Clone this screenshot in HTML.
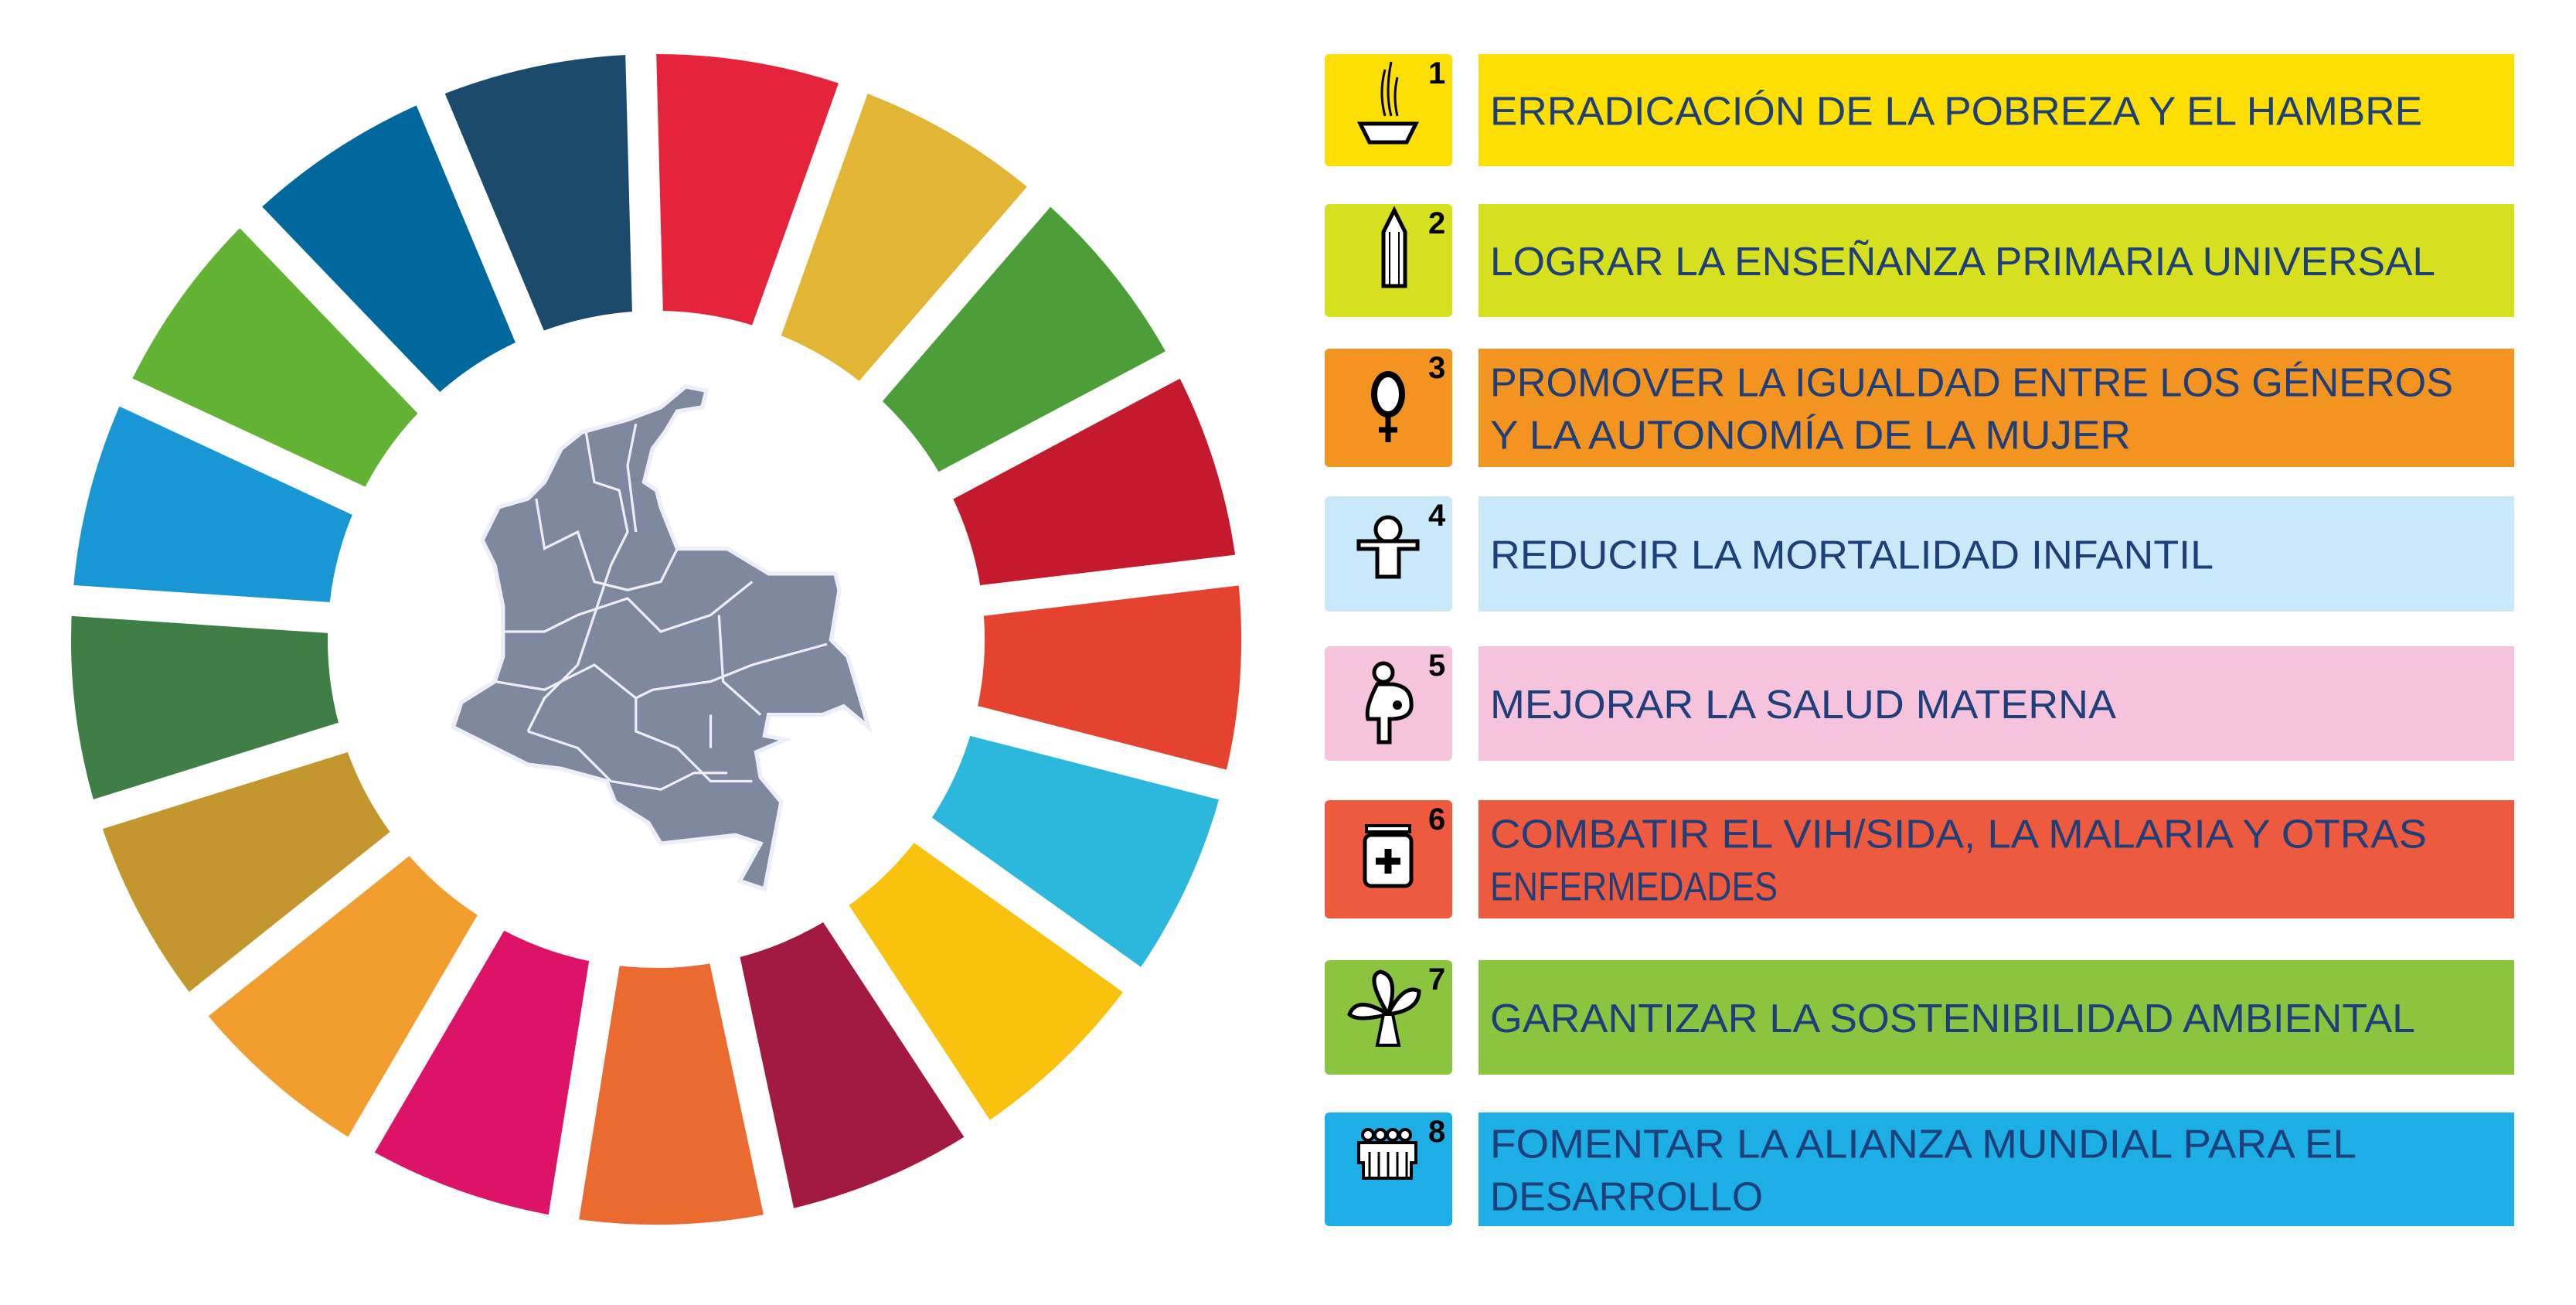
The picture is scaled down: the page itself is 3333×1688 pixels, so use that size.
<!DOCTYPE html>
<html><head><meta charset="utf-8"><style>
html,body{margin:0;padding:0;background:#fff;}
svg{display:block;}
.t{font-family:"Liberation Sans",sans-serif;font-size:52px;fill:#1F3F7A;}
.n{font-family:"Liberation Sans",sans-serif;font-size:40px;font-weight:bold;fill:#000;}
</style></head><body>
<svg id="s" width="3333" height="1688" viewBox="0 0 3333 1688">
<g id="ring"></g>
<g id="map" transform="translate(-5,0) scale(1.075)">
<polygon fill="#7E89A0" stroke="#EEEEF8" stroke-width="5" points="830,465 855,470 850,490 820,495 805,520 790,540 780,580 795,590 800,610 820,660 880,660 930,690 1010,690 1015,710 1005,770 1025,790 1040,840 1050,875 1020,850 995,860 930,860 925,885 950,890 915,905 920,935 945,965 925,1070 895,1060 920,1015 890,1005 800,1015 785,990 745,965 735,940 680,925 640,920 610,905 570,885 550,875 560,845 600,820 610,790 610,730 600,680 585,650 605,610 640,600 660,580 680,540 705,520 760,505 800,490"/>
<g fill="none" stroke="#EEEEF8" stroke-width="3">
<polyline points="650,600 660,660 700,640 720,700 760,710 800,700 820,660"/>
<polyline points="710,520 720,580 750,590 760,640 740,680 720,740 700,800 660,840 640,880"/>
<polyline points="770,510 760,560 770,640"/>
<polyline points="610,760 660,760 700,740 760,720 800,760 860,740 910,700"/>
<polyline points="870,740 875,820 920,860"/>
<polyline points="600,820 660,830 720,800 770,840 790,830 860,820 910,800 1000,775"/>
<polyline points="770,840 770,880 820,900 860,940 910,940"/>
<polyline points="640,880 700,900 740,940 800,950 840,930 880,930"/>
<polyline points="860,860 860,900"/>
</g>
</g>
<g id="rows"></g>
</svg>
<script>
var ringColors=["#E5243B","#E2B534","#4C9F38","#C5192D","#E5432F","#2BB8DC","#F9C20F","#A21942","#EA6A30","#DD1367","#F29E2E","#C4972E","#3F7E44","#1996D4","#62B234","#00689D","#1B4A6C"];
var NS="http://www.w3.org/2000/svg";
var cx=849,cy=827,R=757,r=425,off=-1.5,step=360/ringColors.length;
var ring=document.getElementById('ring');
function pt(a,rad){var t=a*Math.PI/180;return [cx+rad*Math.sin(t),cy-rad*Math.cos(t)];}
ringColors.forEach(function(c,i){
 var a0=off+i*step,a1=a0+step;
 var p0=pt(a0,R),p1=pt(a1,R),p2=pt(a1,r),p3=pt(a0,r);
 var p=document.createElementNS(NS,'path');
 p.setAttribute('d','M'+p0+' A'+R+','+R+' 0 0 1 '+p1+' L'+p2+' A'+r+','+r+' 0 0 0 '+p3+'Z');
 p.setAttribute('fill',c);
 
 
 ring.appendChild(p);
});
ringColors.forEach(function(c,i){
 var a=off+i*step,q=pt(a,R+20);
 var l=document.createElementNS(NS,'line');
 l.setAttribute('x1',cx);l.setAttribute('y1',cy);l.setAttribute('x2',q[0]);l.setAttribute('y2',q[1]);
 l.setAttribute('stroke','#fff');l.setAttribute('stroke-width','40');
 
 
 ring.appendChild(l);
});
</script>
<script>
var rowTop=[70,264,451,642,836,1035,1242,1439];
var rowBot=[215,410,604,791,984,1188,1390,1586];
var rowColors=["#FDDF03","#D6E01E","#F39320","#C9E8F9","#F5C3DB","#EE5A3E","#8BC53F","#1CAEE4"];
var rowLines=[["ERRADICACIÓN DE LA POBREZA Y EL HAMBRE"],["LOGRAR LA ENSEÑANZA PRIMARIA UNIVERSAL"],["PROMOVER LA IGUALDAD ENTRE LOS GÉNEROS","Y LA AUTONOMÍA DE LA MUJER"],["REDUCIR LA MORTALIDAD INFANTIL"],["MEJORAR LA SALUD MATERNA"],["COMBATIR EL VIH/SIDA, LA  MALARIA Y OTRAS","ENFERMEDADES"],["GARANTIZAR LA SOSTENIBILIDAD AMBIENTAL"],["FOMENTAR LA ALIANZA MUNDIAL PARA EL","DESARROLLO"]];
var rowWidths=[[1206],[1223],[1246,829],[936],[810],[1212,372],[1197],[1121,353]];
var icons=[
'<path d="M1760 160 h72 l-12 24 h-48 z" fill="#fff" stroke="#000" stroke-width="5"/><path d="M1792 150 q-8-30 0-60 M1800 150 q-8-30 0-70 M1808 150 q-6-25 0-50" stroke="#000" stroke-width="3" fill="none"/>',
'<path d="M1790 300 l14-28 l14 28 v70 h-28z" fill="#fff" stroke="#000" stroke-width="5"/><path d="M1798 300 v70 M1810 300 v70" stroke="#000" stroke-width="2"/>',
'<ellipse cx="1796" cy="510" rx="18" ry="26" fill="#fff" stroke="#000" stroke-width="8"/><path d="M1796 536 v36 M1784 556 h24" stroke="#000" stroke-width="7"/>',
'<circle cx="1796" cy="685" r="16" fill="#fff" stroke="#000" stroke-width="5"/><path d="M1758 700 h76 v10 h-24 v36 h-28 v-36 h-24z" fill="#fff" stroke="#000" stroke-width="5"/>',
'<circle cx="1790" cy="870" r="12" fill="#fff" stroke="#000" stroke-width="5"/><path d="M1782 885 q-16 30-12 45 h14 v30 h14 v-30 q30 0 28-20 q0-22-24-25z" fill="#fff" stroke="#000" stroke-width="5"/><circle cx="1808" cy="912" r="6" fill="#000"/>',
'<rect x="1768" y="1068" width="56" height="8" fill="#fff" stroke="#000" stroke-width="4"/><rect x="1766" y="1080" width="60" height="66" rx="8" fill="#fff" stroke="#000" stroke-width="5"/><path d="M1796 1098 v32 M1780 1114 h32" stroke="#000" stroke-width="9"/>',
'<path d="M1796 1312 q-30-50 -10-55 q25 5 10 55 q20-40 40-30 q0 25-40 30 q-40 10-50 0 q10-25 50 0 z" fill="#fff" stroke="#000" stroke-width="5"/><path d="M1790 1312 l-8 40 h28 l-8-40z" fill="#fff" stroke="#000" stroke-width="4"/>',
'<g fill="#fff" stroke="#000" stroke-width="4"><circle cx="1770" cy="1468" r="7"/><circle cx="1786" cy="1468" r="7"/><circle cx="1802" cy="1468" r="7"/><circle cx="1818" cy="1468" r="7"/><path d="M1758 1478 h74 v26 h-6 v20 h-62 v-20 h-6z"/></g><path d="M1772 1490 v34 M1784 1490 v34 M1796 1490 v34 M1808 1490 v34 M1820 1490 v34" stroke="#000" stroke-width="3"/>'
];
var rows=document.getElementById('rows');
rowTop.forEach(function(t,i){
 var b=rowBot[i],h=b-t;
 var g=document.createElementNS(NS,'g');
 
 
 var html='<rect x="1714" y="'+t+'" width="165" height="'+h+'" rx="6" fill="'+rowColors[i]+'"/>';
 html+='<rect x="1913" y="'+t+'" width="1340" height="'+h+'" fill="'+rowColors[i]+'"/>';
 html+=icons[i];
 html+='<text class="n" x="1848" y="'+(t+38)+'">'+(i+1)+'</text>';
 var lines=rowLines[i],mid=(t+b)/2;
 lines.forEach(function(s,j){
  var cy2=lines.length==1?mid:mid+(j==0?-34:34);
  html+='<text class="t" x="1928" y="'+(cy2+19)+'" textLength="'+rowWidths[i][j]+'" lengthAdjust="spacingAndGlyphs">'+s+'</text>';
 });
 g.innerHTML=html;
 rows.appendChild(g);
});
</script>
</body></html>
